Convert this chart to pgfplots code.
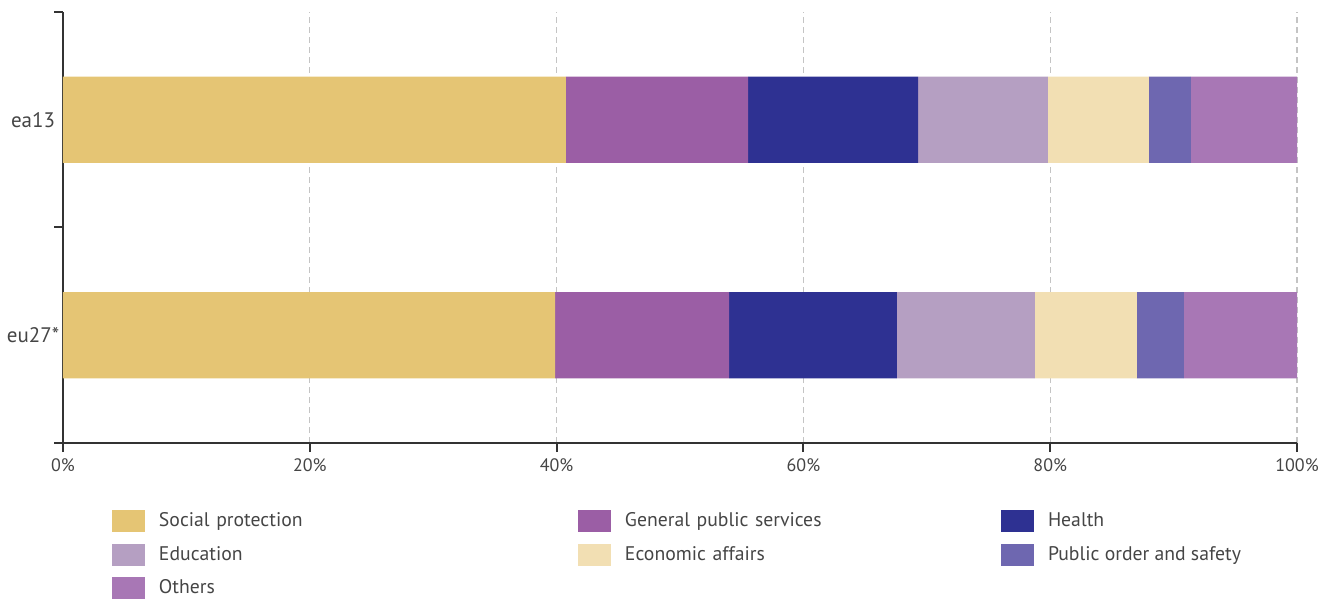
\documentclass[border=0pt]{standalone}
\usepackage{fontspec}
\setmainfont{PT Sans}
\usepackage{pgfplots}
\pgfplotsset{compat=1.18}
\definecolor{cSP}{HTML}{E5C574}
\definecolor{cGPS}{HTML}{9B5EA5}
\definecolor{cH}{HTML}{2E3192}
\definecolor{cE}{HTML}{B59FC2}
\definecolor{cEA}{HTML}{F2DFB3}
\definecolor{cPO}{HTML}{6E67B0}
\definecolor{cO}{HTML}{A877B5}
\definecolor{axisc}{HTML}{333333}
\definecolor{gridc}{HTML}{C4C4C4}
\definecolor{textc}{HTML}{454545}
\pgfplotsset{/pgfplots/my legend/.style={legend image code/.code={\fill[##1, draw=none] (0pt,-5.5pt) rectangle (16.5pt,5.5pt);}}}
\begin{document}
\begin{tikzpicture}
\useasboundingbox (-31.5pt,-78pt) rectangle (636.5pt,221.5pt);
\begin{axis}[
  at={(0,0)}, anchor=south west,
  scale only axis, width=617pt, height=215.5pt,
  xbar stacked, bar width=0.4,
  xmin=0, xmax=100, ymin=-0.5, ymax=1.5,
  axis x line*=bottom, axis y line*=left,
  axis line style={line width=1pt, color=axisc, -},
  xtick={0,20,...,100},
  xticklabel={\pgfmathprintnumber{\tick}\%},
  ytick={-0.5,0.5,1.5}, yticklabels={},
  extra y ticks={0,1}, extra y tick labels={eu27*,ea13},
  extra y tick style={tick style={draw=none}, grid=none,
    yticklabel style={anchor=center, xshift=-10.5pt, font=\fontsize{10.5}{12}\selectfont}},
  tick align=outside, major tick length=4.5pt,
  tick style={line width=1pt, color=axisc},
  xmajorgrids,
  grid style={dash pattern=on 3pt off 2pt, color=gridc, line width=0.6pt},
  /pgf/number format/assume math mode=true,
  tick label style={font=\fontsize{9}{11}\selectfont, text=textc},
  every axis plot post/.append style={my legend},
  legend columns=3, legend cell align=left,
  legend style={at={(0.0397,-0.1555)}, anchor=north west, draw=none, fill=none,
    inner sep=0pt, outer sep=0pt, row sep=5.75pt,
    font=\fontsize{9.85}{11}\selectfont, text=textc,
    nodes={inner sep=0pt},
    /tikz/every odd column/.style={column sep=7pt},
    /tikz/column 2/.style={text width=209.5pt},
    /tikz/column 4/.style={text width=188pt}},
]
\addplot[fill=cSP, draw=none] coordinates {(39.87,0) (40.76,1)};
\addlegendentry{Social protection}
\addplot[fill=cGPS, draw=none] coordinates {(14.10,0) (14.75,1)};
\addlegendentry{General public services}
\addplot[fill=cH, draw=none] coordinates {(13.61,0) (13.78,1)};
\addlegendentry{Health}
\addplot[fill=cE, draw=none] coordinates {(11.18,0) (10.53,1)};
\addlegendentry{Education}
\addplot[fill=cEA, draw=none] coordinates {(8.27,0) (8.18,1)};
\addlegendentry{Economic affairs}
\addplot[fill=cPO, draw=none] coordinates {(3.81,0) (3.40,1)};
\addlegendentry{Public order and safety}
\addplot[fill=cO, draw=none] coordinates {(9.16,0) (8.60,1)};
\addlegendentry{Others}
\end{axis}
\end{tikzpicture}
\end{document}
